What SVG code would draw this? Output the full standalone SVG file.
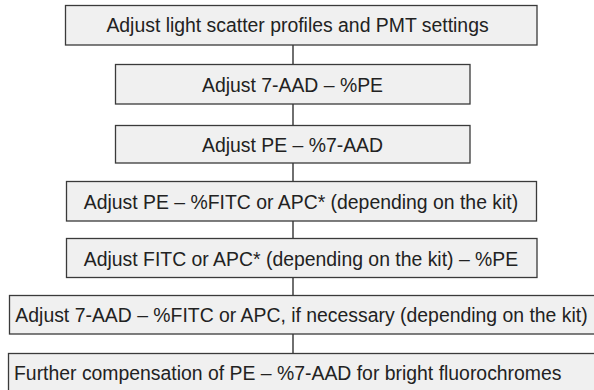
<svg xmlns="http://www.w3.org/2000/svg" width="594" height="390" viewBox="0 0 594 390">
<style>
.box{fill:#f0f0f0;stroke:#3a3a3a;stroke-width:1.3}
.t{font-family:"Liberation Sans",Arial,sans-serif;font-size:19.4px;fill:#222;text-anchor:middle}
.ts{font-family:"Liberation Sans",Arial,sans-serif;font-size:19.4px;fill:#222;text-anchor:start}
.c{stroke:#333;stroke-width:1.4;fill:none}
</style>
<rect width="594" height="390" fill="#ffffff"/>
<g id="connectors">
<line class="c" x1="293" y1="45" x2="293" y2="64.5"/>
<line class="c" x1="293" y1="104" x2="293" y2="125.5"/>
<line class="c" x1="293" y1="163" x2="293" y2="181.5"/>
<line class="c" x1="293" y1="221" x2="293" y2="238.5"/>
<line class="c" x1="293" y1="277.5" x2="293" y2="295.5"/>
<line class="c" x1="293" y1="334" x2="293" y2="353.5"/>
</g>
<g id="n1"><rect class="box" x="65.5" y="5.5" width="471.5" height="39.5"/><text class="t" x="297.5" y="32">Adjust light scatter profiles and PMT settings</text></g>
<g id="n2"><rect class="box" x="115.5" y="64.5" width="354.5" height="39.5"/><text class="t" x="292.5" y="92">Adjust 7-AAD – %PE</text></g>
<g id="n3"><rect class="box" x="115.5" y="125.5" width="354.5" height="37.5"/><text class="t" x="292.5" y="151.5">Adjust PE – %7-AAD</text></g>
<g id="n4"><rect class="box" x="66.5" y="181.5" width="470" height="39.5"/><text class="t" x="301" y="209">Adjust PE – %FITC or APC* (depending on the kit)</text></g>
<g id="n5"><rect class="box" x="66.5" y="238.5" width="470.5" height="39"/><text class="t" x="301" y="265.5">Adjust FITC or APC* (depending on the kit) – %PE</text></g>
<g id="n6"><rect class="box" x="9.5" y="295.5" width="590" height="38.5"/><text class="t" x="301.5" y="322">Adjust 7-AAD – %FITC or APC, if necessary (depending on the kit)</text></g>
<g id="n7"><rect class="box" x="8.5" y="353.5" width="590" height="40"/><text class="ts" x="14" y="380">Further compensation of PE – %7-AAD for bright fluorochromes</text></g>
</svg>
